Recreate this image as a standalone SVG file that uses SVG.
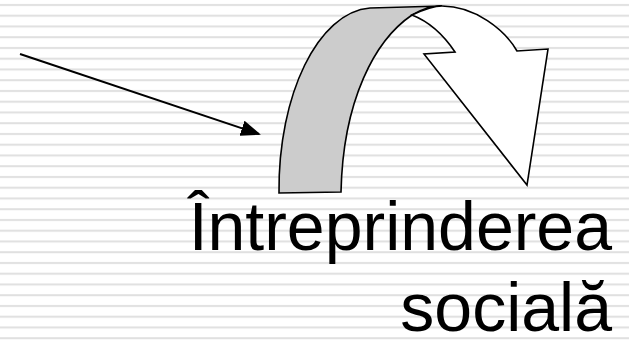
<svg xmlns="http://www.w3.org/2000/svg" width="629" height="345" viewBox="0 0 629 345">
  <defs>
    <pattern id="stripes" patternUnits="userSpaceOnUse" x="0" y="0" width="629" height="10.75">
      <rect x="0" y="4" width="629" height="2" fill="#e0e0e0"/>
    </pattern>
    <marker id="arrowhead" markerWidth="10" markerHeight="8" refX="9" refY="4" orient="auto" markerUnits="strokeWidth">
      <path d="M0,0 L10,4 L0,8 Z" fill="#000"/>
    </marker>
    <style>
      .shape { stroke: #000; stroke-width: 1.6; stroke-linejoin: miter; }
      .label { font-family: "Liberation Sans", Arial, sans-serif; font-size: 68px; fill: #000; }
    </style>
  </defs>
  <rect x="0" y="0" width="629" height="345" fill="#ffffff"/>
  <rect x="0" y="0" width="629" height="345" fill="url(#stripes)"/>

  <g id="connectors">
    <line x1="20" y1="54" x2="259" y2="134" stroke="#000" stroke-width="2" marker-end="url(#arrowhead)"/>
  </g>

  <g id="curved-arrow">
    <path class="shape" fill="#cccccc" d="M279,193 C278,95 318,12 370,8 L442,6 C430,6 420,10 412,15 C375,40 343,100 341,192 Z"/>
    <path class="shape" fill="#ffffff" d="M412,15 C425,9 435,6 442,6 C475,6 505,30 517,51 L548,49 L527,185 L424,54 L455,52 C445,37 430,22 412,15 Z"/>
  </g>

  <g id="label">
    <text class="label" x="612" y="250" text-anchor="end">Întreprinderea</text>
    <text class="label" x="612" y="331" text-anchor="end">socială</text>
  </g>
</svg>
